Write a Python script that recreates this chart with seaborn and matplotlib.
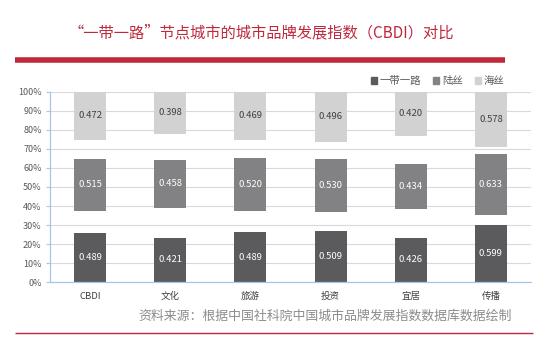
import numpy as np
import pandas as pd
import matplotlib
matplotlib.use("Agg")
import matplotlib.pyplot as plt
import seaborn as sns
from matplotlib.lines import Line2D
from matplotlib.patches import Patch

# ---- data ----
categories = ['CBDI', '文化', '旅游', '投资', '宜居', '传播']
yidai_yilu = [0.489, 0.421, 0.489, 0.509, 0.426, 0.599]   # 一带一路
lusi = [0.515, 0.458, 0.520, 0.530, 0.434, 0.633]         # 陆丝
haisi = [0.472, 0.398, 0.469, 0.496, 0.420, 0.578]        # 海丝
spacer1 = [0.211, 0.279, 0.211, 0.191, 0.274, 0.101]      # invisible gap series
spacer2 = [0.185, 0.242, 0.180, 0.170, 0.266, 0.067]      # invisible gap series
series_names = ['一带一路', '陆丝', '海丝']
ytick_labels = ['0%', '10%', '20%', '30%', '40%', '50%', '60%', '70%', '80%', '90%', '100%']
title = '“一带一路”节点城市的城市品牌发展指数（CBDI）对比'
source = '资料来源：根据中国社科院中国城市品牌发展指数数据库数据绘制'

sns.set_theme(style='white')
plt.rcParams['font.family'] = ['Noto Sans CJK SC', 'DejaVu Sans']

W, H = 554, 351
fig = plt.figure(figsize=(W / 100, H / 100), dpi=100)
ax = fig.add_axes([50 / W, 1 - 282.3 / H, (531 - 50) / W, (282.3 - 91.7) / H])

df = pd.DataFrame({'cat': categories, 'a': yidai_yilu, 'g1': spacer1,
                   'b': lusi, 'g2': spacer2, 'c': haisi})
total = df[['a', 'g1', 'b', 'g2', 'c']].sum(axis=1)
pct = df[['a', 'g1', 'b', 'g2', 'c']].div(total, axis=0) * 100
bottoms = pct.cumsum(axis=1) - pct

colors = {'a': '#5b5b5d', 'b': '#828284', 'c': '#d2d2d2'}
txtcol = {'a': 'white', 'b': 'white', 'c': '#404040'}
ax.set_axisbelow(True)
ax.yaxis.grid(True, color='#d9d9d9', linewidth=0.8)

for key in ['a', 'b', 'c']:
    d = pd.DataFrame({'cat': categories, 'h': pct[key].values})
    n0 = len(ax.patches)
    sns.barplot(data=d, x='cat', y='h', color=colors[key], saturation=1,
                width=0.4, ax=ax, order=categories)
    for i, p in enumerate(ax.patches[n0:]):
        b = bottoms[key].iloc[i]
        p.set_y(b)
        p.set_edgecolor('none')
        val = df[key].iloc[i]
        ax.text(p.get_x() + p.get_width() / 2, b + p.get_height() / 2,
                f'{val:.3f}', ha='center', va='center', fontsize=6.8,
                color=txtcol[key])

ax.set_ylim(0, 100)
ax.set_xlim(-0.5, len(categories) - 0.5)
ax.set_yticks(np.arange(0, 101, 10))
ax.set_yticklabels(ytick_labels, fontsize=6.5, color='#595959')
ax.tick_params(axis='x', length=0, pad=7, labelsize=6.8, labelcolor='#404040')
ax.tick_params(axis='y', length=3, color='#a9c4e6', width=0.8, pad=3, left=True)
ax.set_xlabel('')
ax.set_ylabel('')
for s in ['top', 'right']:
    ax.spines[s].set_visible(False)
for s in ['left', 'bottom']:
    ax.spines[s].set_color('#a9c4e6')
    ax.spines[s].set_linewidth(0.9)

handles = [Patch(color=colors[k]) for k in ['a', 'b', 'c']]
fig.legend(handles, series_names, loc='center right',
           bbox_to_anchor=(514 / W, 1 - 81 / H), ncol=3, frameon=False,
           fontsize=7.5, handlelength=0.6, handleheight=0.6, handletextpad=0.3,
           columnspacing=1.1, labelcolor='#595959')

red = '#c0283c'
fig.text(261 / W, 1 - 33 / H, title, ha='center', va='center',
         fontsize=11, color=red)
fig.add_artist(Line2D([15 / W, 505 / W], [1 - 59.5 / H] * 2, color=red,
                      linewidth=4, transform=fig.transFigure, solid_capstyle='butt'))
fig.add_artist(Line2D([15 / W, 533 / W], [1 - 333 / H] * 2, color=red,
                      linewidth=1, transform=fig.transFigure, solid_capstyle='butt'))
fig.text(325 / W, 1 - 316 / H, source, ha='center', va='center',
         fontsize=9.3, color='#8c8c8c')

fig.savefig('out.png', dpi=100)
